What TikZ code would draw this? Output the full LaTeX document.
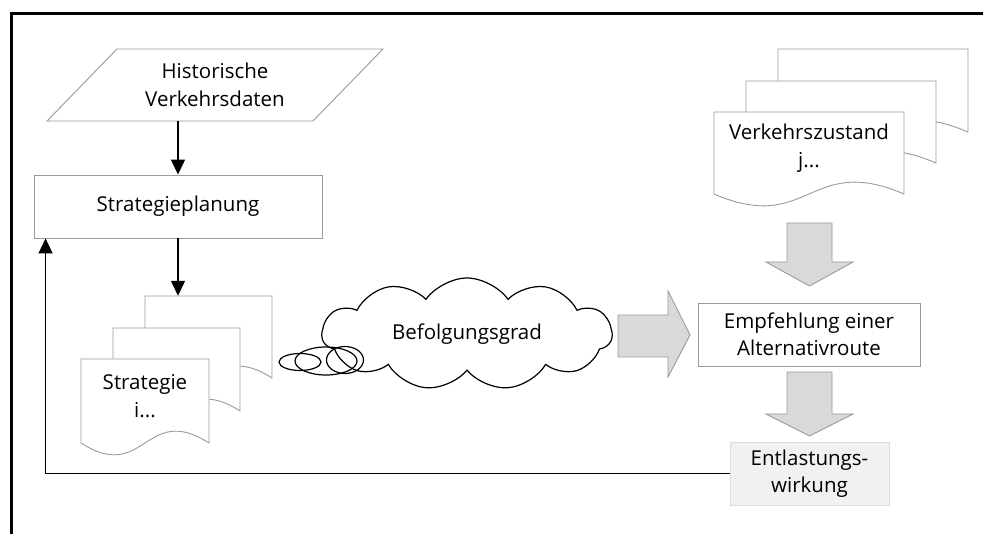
\documentclass[tikz,border=0pt]{standalone}
\usepackage{fontspec}
\setmainfont{Open Sans}
\usetikzlibrary{shapes.symbols,arrows.meta,calc}

\definecolor{edgegray}{HTML}{9A9A9A}
\definecolor{arrowfill}{HTML}{D9D9D9}
\definecolor{resultfill}{HTML}{F1F1F1}
\definecolor{resultedge}{HTML}{DCDCDC}

\newcommand\diafont{\fontsize{20.5}{27.5}\selectfont}

% one sheet of a document stack: name, left x, top y, width, straight height, text
\newcommand\docsheet[6]{%
  \draw[sheet] ({#2},{#3}) -- ({#2+#4},{#3}) -- ({#2+#4},{#3+#5})
    .. controls ({#2+#4/2},{#3+#5-41}) and ({#2+#4/2},{#3+#5+41}) .. ({#2},{#3+#5}) -- cycle;
  \node[inner sep=0pt, minimum width=#4pt, minimum height=#5pt] (#1) at ({#2+#4/2},{#3+#5/2}) {};
  \node[txt] (#1-text) at ({#2+#4/2},{#3+#5/2-5}) {#6};
}

\begin{document}
\begin{tikzpicture}[x=1pt,y=-1pt,
  font=\diafont,
  txt/.style={align=center, inner sep=0pt, font=\diafont},
  sheet/.style={draw=edgegray, line width=0.9pt, fill=white},
  box/.style={draw=edgegray, line width=0.9pt, fill=white, align=center, inner sep=0pt},
  flow/.style={line width=1.3pt, -{Triangle[width=14pt,length=15pt]}},
  blockarrow/.style={draw=edgegray, line width=0.9pt, fill=arrowfill},
]
\useasboundingbox (0,0) rectangle (983,534);

% outer frame (left and top edges)
\draw[line width=3pt] (11,534) -- (11,14) -- (983,14);

% input data
\draw[sheet] (47,121) -- (117,49) -- (383,49) -- (313,121) -- cycle;
\node[txt, minimum width=266pt, minimum height=72pt] (hist) at (215,85) {Historische\\Verkehrsdaten};

% planning step
\node[box, minimum width=288pt, minimum height=63pt] (plan) at (178,206.5) {Strategieplanung};

% strategy documents
\docsheet{stratC}{145}{296}{127}{82}{}
\docsheet{stratB}{113}{328}{127}{83}{}
\docsheet{stratA}{81}{359}{128}{84}{Strategie\\i...}

% traffic state documents
\docsheet{stateC}{778}{49}{190}{83}{}
\docsheet{stateB}{746}{81}{190}{82}{}
\docsheet{stateA}{714}{112}{190}{82}{Verkehrszustand\\j...}

% compliance cloud
\node[cloud, cloud puffs=11, cloud puff arc=110, aspect=2.6, draw, line width=1.2pt,
      fill=white, minimum width=290pt, minimum height=112pt, inner sep=0pt]
      (befolg) at (467,334) {Befolgungsgrad};
\draw[line width=1.2pt] (300,362) ellipse [x radius=21pt, y radius=8.5pt];
\draw[line width=1.2pt] (326,361) ellipse [x radius=31pt, y radius=14pt];
\draw[line width=1.2pt] (345,360) ellipse [x radius=18.5pt, y radius=13.5pt];

% recommendation and effect
\node[box, minimum width=222pt, minimum height=63pt] (empf) at (809,334.5) {Empfehlung einer\\Alternativroute};
\node[box, draw=resultedge, fill=resultfill, minimum width=159pt, minimum height=63pt] (ent) at (809.5,473.5) {Entlastungs-\\wirkung};

% block arrows
\draw[blockarrow] (618,315) -- (668,315) -- (668,291) -- (690,335) -- (668,377) -- (668,357) -- (618,357) -- cycle;
\draw[blockarrow] (787,223) -- (832,223) -- (832,262) -- (853,262) -- (809.5,286) -- (766,262) -- (787,262) -- cycle;
\draw[blockarrow] (787,372) -- (832,372) -- (832,414) -- (853,414) -- (809.5,436) -- (766,414) -- (787,414) -- cycle;

% connectors
\draw[flow] (hist.south -| plan.north) -- (plan.north);
\draw[flow] (plan.south) -- (plan.south |- stratC.north);
\draw[flow] (ent.west) -| ($(plan.south west)+(12,0)$);
\end{tikzpicture}
\end{document}
